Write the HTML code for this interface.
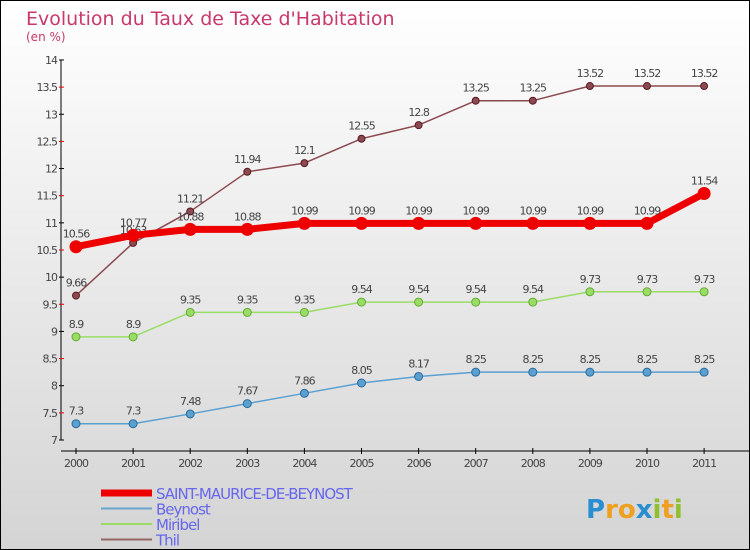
<!DOCTYPE html>
<html><head><meta charset="utf-8"><style>
body{margin:0}
#c{width:748px;height:548px;border:1px solid #000;background:linear-gradient(#fff,#d4d4d4);position:relative;overflow:hidden;font-family:"DejaVu Sans","Liberation Sans",sans-serif}
</style></head><body>
<div id="c">
<svg width="748" height="548" id="svg"></svg>
</div>
<script>
const years=["2000","2001","2002","2003","2004","2005","2006","2007","2008","2009","2010","2011"];
const saint=[10.56,10.77,10.88,10.88,10.99,10.99,10.99,10.99,10.99,10.99,10.99,11.54];
const beynost=[7.3,7.3,7.48,7.67,7.86,8.05,8.17,8.25,8.25,8.25,8.25,8.25];
const miribel=[8.9,8.9,9.35,9.35,9.35,9.54,9.54,9.54,9.54,9.73,9.73,9.73];
const thil=[9.66,10.63,11.21,11.94,12.1,12.55,12.8,13.25,13.25,13.52,13.52,13.52];
const yTicks=[7,7.5,8,8.5,9,9.5,10,10.5,11,11.5,12,12.5,13,13.5,14];
const NS="http://www.w3.org/2000/svg",svg=document.getElementById('svg');
const X=i=>75+i*57.1, Y=v=>439-(v-7)*54.29;
function mk(t,a,p){const e=document.createElementNS(NS,t);for(const k in a)e.setAttribute(k,a[k]);(p||svg).appendChild(e);return e;}
function txt(x,y,s,a){const e=mk('text',Object.assign({x:x,y:y},a));e.textContent=s;return e;}
let t=txt(25,24,"Evolution du Taux de Taxe d'Habitation",{fill:'#c8386a','font-size':19});

t=txt(25,40,"(en %)",{fill:'#c8386a','font-size':12});

let ax=mk('g',{});
mk('line',{x1:60,y1:Y(14),x2:60,y2:Y(7),stroke:'#000'},ax);
yTicks.forEach((v,i)=>{const half=i%2==1;
mk('line',{x1:58,x2:63,y1:Y(v),y2:Y(v),stroke:half?'#e00':'#000'},ax);
if(!half||true){} txt(56,Y(v)+4,String(v),{'text-anchor':'end','font-size':11,fill:'#444','letter-spacing':'-1'},ax);});
let xa=mk('g',{});
mk('line',{x1:60,y1:450,x2:748,y2:450,stroke:'#000'},xa);
years.forEach((y,i)=>{mk('line',{x1:X(i),x2:X(i),y1:447,y2:453,stroke:'#000'},xa);txt(X(i),466,y,{'text-anchor':'middle','font-size':11,fill:'#444','letter-spacing':'-1'},xa);});
function series(d,name,col,w,r,dark,lbl){const g=mk('g',{});
mk('polyline',{points:d.map((v,i)=>X(i)+','+Y(v)).join(' '),fill:'none',stroke:col,'stroke-width':w,'stroke-linejoin':'round'},g);
d.forEach((v,i)=>{const c=mk('circle',{cx:X(i),cy:Y(v),r:r,fill:col,stroke:dark,'stroke-width':1},g);
if(lbl)txt(X(i),Y(v)-9,String(v),{'text-anchor':'middle','font-size':11,fill:'#444','letter-spacing':'-1'},g);});}
series(beynost,'beynost-series','#5aa0d0',1.5,4,'#2a6a9a',true);
series(miribel,'miribel-series','#99dd66',1.5,4,'#66aa33',true);
series(thil,'thil-series','#8a4a50',1.5,3.5,'#5a1a20',true);
series(saint,'saint-maurice-series','#ee0000',7,6,'#ee0000',true);
const leg=[["SAINT-MAURICE-DE-BEYNOST",'#ee0000',7],["Beynost",'#6aa6d0',2],["Miribel",'#99dd66',2],["Thil",'#996666',2]];
leg.forEach((l,i)=>{const g=mk('g',{});
const y=492+i*15.5;mk('line',{x1:100,x2:151,y1:y,y2:y,stroke:l[1],'stroke-width':l[2]},g);
txt(155,y+6,l[0],{'font-size':15,fill:'#6666ee','letter-spacing':'-1'},g);});
const lg=txt(585,517,"",{'font-size':26,'font-weight':'bold'});
[["P","#2a8fd0"],["r","#f0a020"],["o","#f0a020"],["x","#2a8fd0"],["i","#90c030"],["t","#f0a020"],["i","#90c030"]].forEach(c=>{const s=mk('tspan',{fill:c[0]=="x"?'#2a8fd0':c[1]},lg);s.textContent=c[0];});
</script>
</body></html>
